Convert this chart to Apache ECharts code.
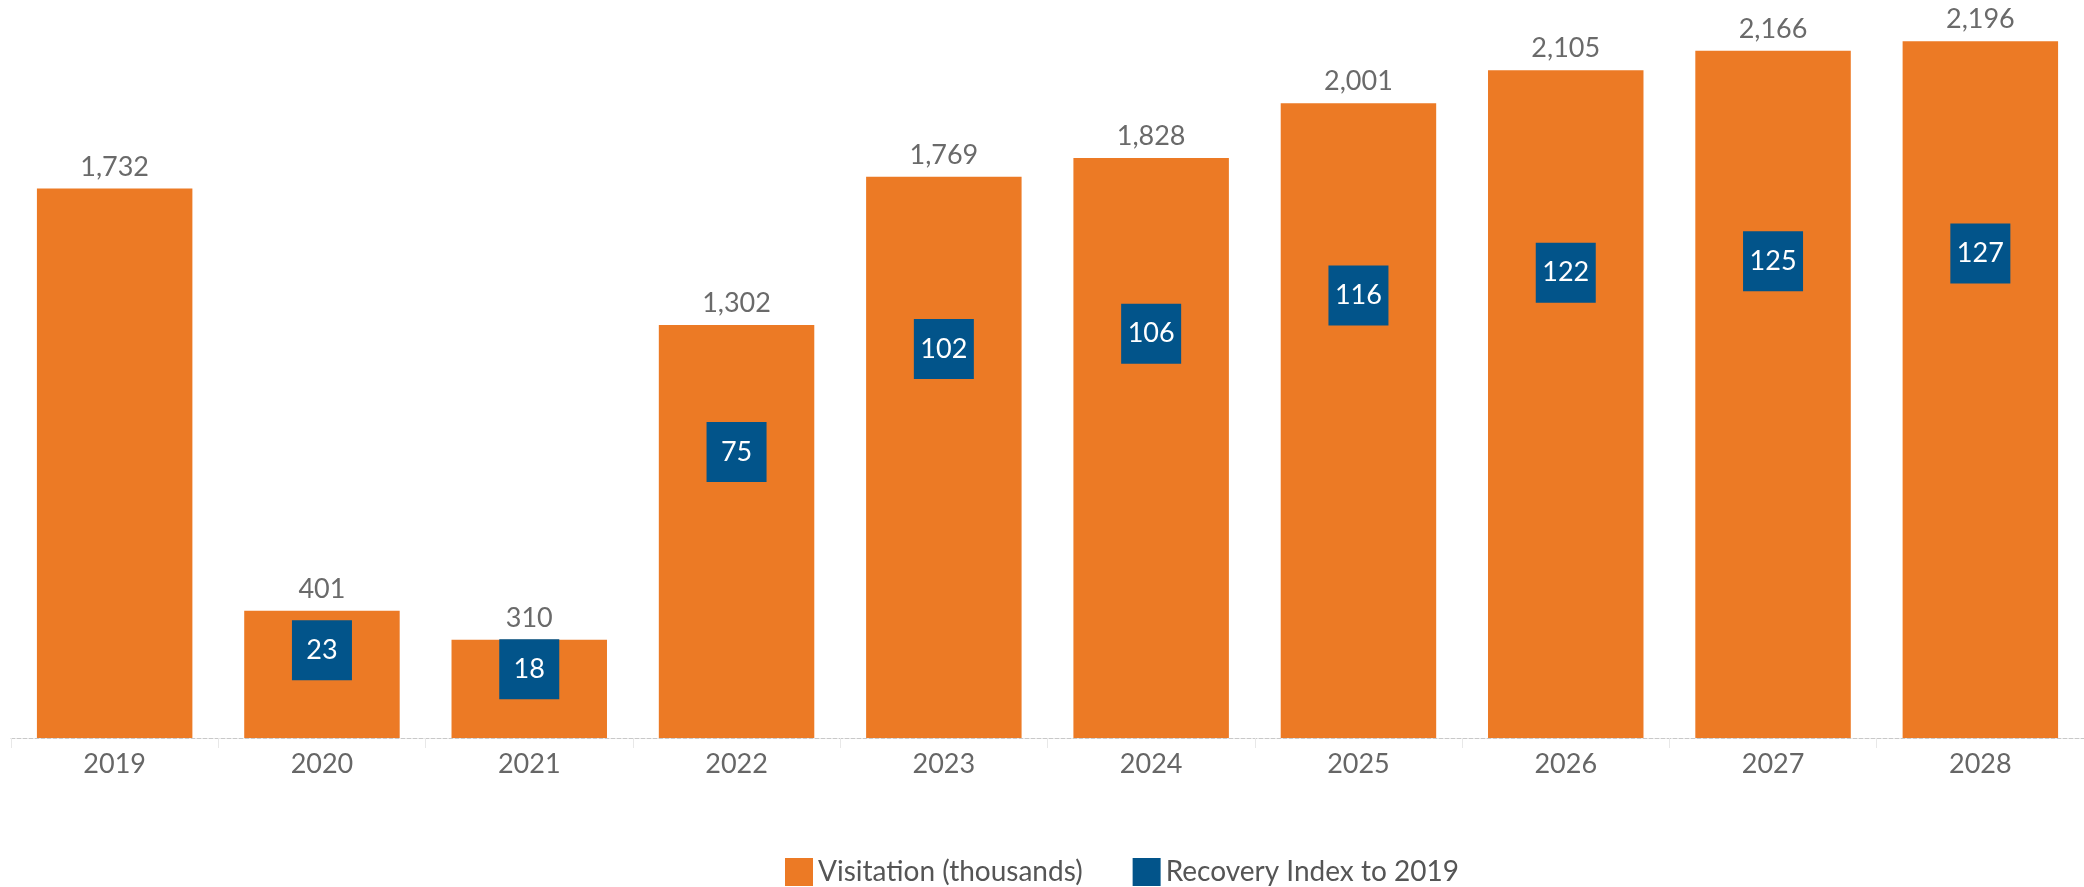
<!DOCTYPE html>
<html>
<head>
<meta charset="utf-8">
<script src="https://cdn.jsdelivr.net/npm/echarts@6/dist/echarts.min.js"></script>
<style>
html,body{margin:0;padding:0;background:#fff;}
#chart{width:2084px;height:887px;}
</style>
</head>
<body>
<div id="chart"></div>
<script>
const categories = ['2019','2020','2021','2022','2023','2024','2025','2026','2027','2028'];
const visitation = [1732, 401, 310, 1302, 1769, 1828, 2001, 2105, 2166, 2196];
const recoveryIndex = [null, 23, 18, 75, 102, 106, 116, 122, 125, 127];

const FONT = 'Lato, "Open Sans", sans-serif';
const chart = echarts.init(document.getElementById('chart'));
chart.setOption({
  animation: false,
  textStyle: { fontFamily: FONT },
  grid: { left: 11, right: -2, top: 40, bottom: 149 },
  legend: {
    left: 780, top: 853,
    itemWidth: 28, itemHeight: 28, itemGap: 50,
    icon: 'rect',
    textStyle: { fontSize: 28, color: '#555', fontFamily: FONT },
    data: ['Visitation (thousands)', 'Recovery Index to 2019']
  },
  xAxis: {
    type: 'category',
    data: categories,
    axisLine: { lineStyle: { color: '#c8c8c8', type: 'dashed', width: 1 } },
    axisTick: { show: true, length: 10, lineStyle: { color: '#e8e8e8' } },
    axisLabel: { fontSize: 27, color: '#666', margin: 13, fontFamily: FONT }
  },
  yAxis: [
    { type: 'value', min: 0, max: 2200, show: false, splitLine: { show: false } },
    { type: 'value', min: 0, max: 183, show: false, splitLine: { show: false } }
  ],
  series: [
    {
      name: 'Visitation (thousands)',
      type: 'bar',
      data: visitation,
      barWidth: '75%',
      itemStyle: { color: '#EC7A25' },
      label: {
        show: true, position: 'top', distance: 8,
        fontSize: 27, color: '#6a6a6a', fontFamily: FONT,
        formatter: p => p.value.toLocaleString('en-US')
      }
    },
    {
      name: 'Recovery Index to 2019',
      type: 'scatter',
      yAxisIndex: 1,
      data: recoveryIndex,
      symbol: 'rect',
      symbolSize: 60,
      itemStyle: { color: '#02548A', opacity: 1 },
      label: {
        show: true, position: 'inside',
        fontSize: 27, color: '#fff', fontFamily: FONT
      }
    }
  ]
});
</script>
</body>
</html>
